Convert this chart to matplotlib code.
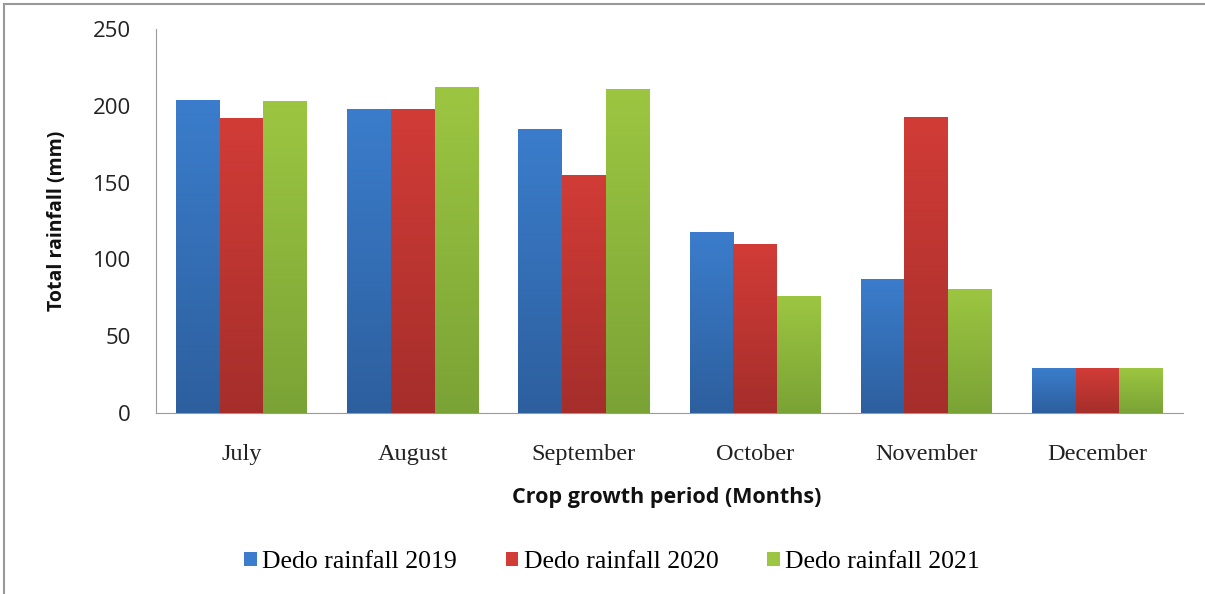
import numpy as np
import matplotlib
matplotlib.use("Agg")
import matplotlib.pyplot as plt
from matplotlib.lines import Line2D
from matplotlib.patches import Patch
from matplotlib.colors import LinearSegmentedColormap

months = ["July", "August", "September", "October", "November", "December"]
rain_2019 = [204, 198, 185, 118, 87, 29]
rain_2020 = [192, 198, 155, 110, 193, 29]
rain_2021 = [203, 212, 211, 76, 81, 29]
series_labels = ["Dedo rainfall 2019", "Dedo rainfall 2020", "Dedo rainfall 2021"]
yticks = [0, 50, 100, 150, 200, 250]

# (top colour, bottom colour) for each series
shades = [("#3b7dcc", "#2d5f9e"), ("#d23c37", "#a52e2b"), ("#9cc641", "#7aa336")]

W, H = 1205, 594
fig = plt.figure(figsize=(W / 100, H / 100), dpi=100)
ax = fig.add_axes([156 / W, 1 - 413 / H, (1183 - 156) / W, (413 - 29) / H])

x = np.arange(len(months))
width = 0.255
offsets = [-width, 0, width]
for vals, off, (top, bot), lab in zip([rain_2019, rain_2020, rain_2021], offsets, shades, series_labels):
    bars = ax.bar(x + off, vals, width=width, color=top, edgecolor="none", label=lab, zorder=2)
    cmap = LinearSegmentedColormap.from_list("g", [bot, top])
    grad = np.linspace(0, 1, 256).reshape(-1, 1)
    for b in bars:
        x0, y0 = b.get_x(), b.get_y()
        w, h = b.get_width(), b.get_height()
        im = ax.imshow(grad, cmap=cmap, origin="lower", aspect="auto",
                       extent=[x0, x0 + w, y0, y0 + h], zorder=3)
        im.set_clip_path(b)

ax.set_xlim(-0.5, len(months) - 0.5)
ax.set_ylim(0, 250)
ax.set_yticks(yticks)
ax.set_xticks(x)
ax.set_xticklabels(months, fontfamily="Liberation Serif", fontsize=17.5)
ax.tick_params(axis="both", length=0, colors="#222222")
ax.tick_params(axis="y", labelsize=16, pad=18)
ax.tick_params(axis="x", pad=22)
for t in ax.get_yticklabels():
    t.set_fontfamily("Open Sans")

for s in ["top", "right"]:
    ax.spines[s].set_visible(False)
ax.spines["left"].set_color("#9a9a9a")
ax.spines["bottom"].set_color("#9a9a9a")

fig.text(667 / W, 1 - 497 / H, "Crop growth period (Months)", ha="center", va="center",
         fontsize=15.5, fontweight="bold", fontfamily="Open Sans", color="#111111")
fig.text(57 / W, 1 - 221 / H, "Total rainfall (mm)", ha="center", va="center", rotation=90,
         fontsize=14, fontweight="bold", fontfamily="Open Sans", color="#111111")

handles = [Patch(facecolor=c[0], edgecolor="none") for c in shades]
fig.legend(handles, series_labels, loc="center", bbox_to_anchor=(612 / W, 1 - 562 / H),
           ncol=3, frameon=False, prop={"family": "Liberation Serif", "size": 18.5},
           handlelength=0.5, handleheight=0.5, handletextpad=0.2, columnspacing=1.9)

# thin grey frame along the top and left edges
fig.add_artist(Line2D([4 / W, 1], [1 - 4 / H, 1 - 4 / H], transform=fig.transFigure,
                      color="#999999", lw=1.5))
fig.add_artist(Line2D([4 / W, 4 / W], [0, 1 - 4 / H], transform=fig.transFigure,
                      color="#999999", lw=1.5))

fig.savefig("out.png", dpi=100)
